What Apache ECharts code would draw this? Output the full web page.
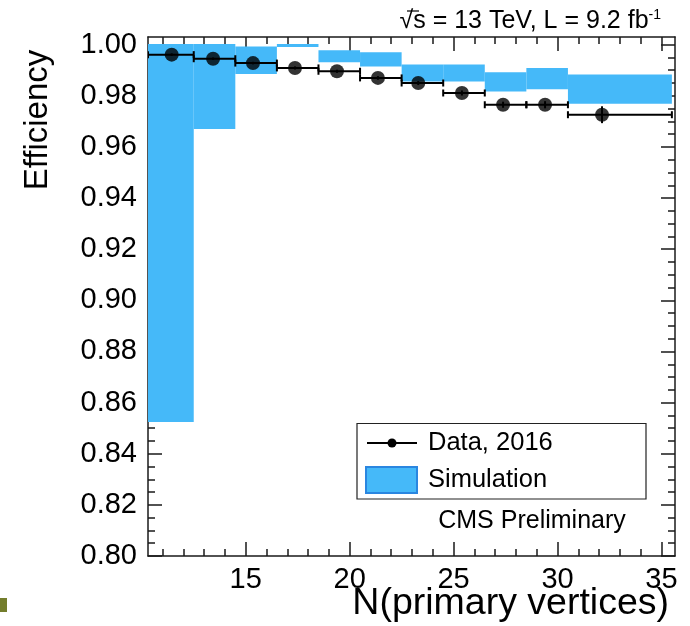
<!DOCTYPE html>
<html>
<head>
<meta charset="utf-8">
<script src="https://cdn.jsdelivr.net/npm/echarts@6/dist/echarts.min.js"></script>
<style>
  html, body { margin: 0; padding: 0; background: #fff; }
  #chart { width: 690px; height: 626px; }
</style>
</head>
<body>
<div id="chart"></div>
<script>
// Bin edges in N(primary vertices)
const binLow  = [10.3, 12.5, 14.5, 16.5, 18.5, 20.5, 22.5, 24.5, 26.5, 28.5, 30.5];
const binHigh = [12.5, 14.5, 16.5, 18.5, 20.5, 22.5, 24.5, 26.5, 28.5, 30.5, 35.5];

// Data, 2016: mean N(PV) per bin, efficiency and its uncertainty
const dataX   = [11.44, 13.43, 15.35, 17.37, 19.39, 21.36, 23.3, 25.4, 27.38, 29.4, 32.14];
const dataEff = [0.9961, 0.9945, 0.9928, 0.9909, 0.9896, 0.9870, 0.9850, 0.9811, 0.9765, 0.9765, 0.9726];
const dataErr = [0.0005, 0.0005, 0.0005, 0.0006, 0.0006, 0.0007, 0.0008, 0.0010, 0.0012, 0.0014, 0.0033];

// Simulation: uncertainty band per bin
const simLow  = [0.8524, 0.9670, 0.9885, 0.9991, 0.9931, 0.9915, 0.9856, 0.9856, 0.9817, 0.9826, 0.9769];
const simHigh = [1.0003, 1.0003, 0.9993, 1.0003, 0.9978, 0.9970, 0.9922, 0.9922, 0.9892, 0.9909, 0.9883];

// Axis ticks
const xMajor = [15, 20, 25, 30, 35];
const xMinor = [11, 12, 13, 14, 16, 17, 18, 19, 21, 22, 23, 24, 26, 27, 28, 29, 31, 32, 33, 34];
const yMajor = [0.80, 0.82, 0.84, 0.86, 0.88, 0.90, 0.92, 0.94, 0.96, 0.98, 1.00];
const yMinor = [];
for (let i = 0; i < yMajor.length - 1; i++) {
  for (let j = 1; j < 4; j++) yMinor.push(+(yMajor[i] + j * 0.005).toFixed(3));
}

const FONT = 'Liberation Sans';
const BLUE = '#45b9f9';
const FRAME = '#1a1a1a';
const X_MIN = 10.3, X_MAX = 35.65, Y_MIN = 0.80, Y_MAX = 1.003;

function xAxisDef(position, ticks, len, showLine, showLabel) {
  return {
    type: 'value', position: position, min: X_MIN, max: X_MAX,
    axisLine: { show: showLine, onZero: false, lineStyle: { color: FRAME, width: 1.5 } },
    axisTick: { show: true, inside: true, length: len, customValues: ticks,
                lineStyle: { color: FRAME, width: 1.5 } },
    axisLabel: { show: showLabel, customValues: ticks, margin: 9, fontSize: 29,
                 fontFamily: FONT, color: '#000' },
    splitLine: { show: false }
  };
}
function yAxisDef(position, ticks, len, showLine, showLabel) {
  return {
    type: 'value', position: position, min: Y_MIN, max: Y_MAX,
    axisLine: { show: showLine, onZero: false, lineStyle: { color: FRAME, width: 1.5 } },
    axisTick: { show: true, inside: true, length: len, customValues: ticks,
                lineStyle: { color: FRAME, width: 1.5 } },
    axisLabel: { show: showLabel, customValues: ticks, margin: 11, fontSize: 29,
                 fontFamily: FONT, color: '#000',
                 formatter: v => v.toFixed(2) },
    splitLine: { show: false }
  };
}

const chart = echarts.init(document.getElementById('chart'), null, { renderer: 'canvas' });

const option = {
  animation: false,
  backgroundColor: '#fff',
  grid: { left: 148, top: 37, width: 527, height: 519, containLabel: false },
  xAxis: [
    xAxisDef('bottom', xMajor, 14, true, true),
    xAxisDef('bottom', xMinor, 7, false, false),
    xAxisDef('top', xMajor, 14, true, false),
    xAxisDef('top', xMinor, 7, false, false)
  ],
  yAxis: [
    yAxisDef('left', yMajor, 14, true, true),
    yAxisDef('left', yMinor, 7, false, false),
    yAxisDef('right', yMajor, 14, true, false),
    yAxisDef('right', yMinor, 7, false, false)
  ],
  series: [
    {
      // simulation uncertainty band
      type: 'custom',
      name: 'Simulation',
      clip: true,
      data: binLow.map((lo, i) => [lo, binHigh[i], simLow[i], simHigh[i]]),
      encode: { x: [0, 1], y: [2, 3] },
      renderItem: function (params, api) {
        const a = api.coord([api.value(0), api.value(3)]);
        const b = api.coord([api.value(1), api.value(2)]);
        return {
          type: 'rect',
          shape: { x: a[0], y: a[1], width: b[0] - a[0], height: b[1] - a[1] },
          style: { fill: BLUE }
        };
      },
      z: 1
    },
    {
      // data error bars: bin width horizontally, uncertainty vertically
      type: 'custom',
      name: 'Data, 2016 errors',
      clip: true,
      data: binLow.map((lo, i) => [lo, binHigh[i], dataX[i], dataEff[i], dataErr[i]]),
      encode: { x: [0, 1], y: 3 },
      renderItem: function (params, api) {
        const lo = api.coord([api.value(0), api.value(3)]);
        const hi = api.coord([api.value(1), api.value(3)]);
        const c = api.coord([api.value(2), api.value(3)]);
        const up = api.coord([api.value(2), api.value(3) + api.value(4)]);
        const dn = api.coord([api.value(2), api.value(3) - api.value(4)]);
        const st = { stroke: '#000', lineWidth: 2 };
        const cap = 3.5;
        return {
          type: 'group',
          children: [
            { type: 'line', shape: { x1: lo[0], y1: lo[1], x2: hi[0], y2: hi[1] }, style: st },
            { type: 'line', shape: { x1: lo[0], y1: lo[1] - cap, x2: lo[0], y2: lo[1] + cap }, style: st },
            { type: 'line', shape: { x1: hi[0], y1: hi[1] - cap, x2: hi[0], y2: hi[1] + cap }, style: st },
            { type: 'line', shape: { x1: c[0], y1: up[1], x2: c[0], y2: dn[1] }, style: st }
          ]
        };
      },
      z: 3
    },
    {
      type: 'scatter',
      name: 'Data, 2016',
      data: dataX.map((x, i) => [x, dataEff[i]]),
      symbol: 'circle',
      symbolSize: 14,
      itemStyle: { color: '#000' },
      z: 4
    }
  ],
  graphic: [
    // energy and luminosity label
    {
      type: 'text',
      style: {
        x: 661, y: 21, align: 'right', verticalAlign: 'middle',
        text: '{m|√s = 13 TeV, L = 9.2 fb}{s|-1}',
        rich: {
          m: { fontSize: 25, fontFamily: FONT, fill: '#000', lineHeight: 26 },
          s: { fontSize: 14, fontFamily: FONT, fill: '#000', verticalAlign: 'top', lineHeight: 26 }
        }
      }
    },
    {
      type: 'line',
      shape: { x1: 407, y1: 11, x2: 419, y2: 11 },
      style: { stroke: '#000', lineWidth: 1.2 }
    },
    // axis titles
    {
      type: 'text',
      x: 38, y: 120, rotation: Math.PI / 2,
      style: { text: 'Efficiency', fontSize: 33, fontFamily: FONT, fill: '#000',
               align: 'center', verticalAlign: 'middle' }
    },
    {
      type: 'text',
      style: { x: 669, y: 604, text: 'N(primary vertices)', fontSize: 37.5, fontFamily: FONT,
               fill: '#000', align: 'right', verticalAlign: 'middle' }
    },
    // legend
    {
      type: 'rect',
      shape: { x: 357, y: 423.5, width: 289, height: 75.5 },
      style: { fill: '#fff', stroke: '#222', lineWidth: 1.2 },
      z: 10
    },
    {
      type: 'line',
      shape: { x1: 367, y1: 443, x2: 417, y2: 443 },
      style: { stroke: '#000', lineWidth: 2 },
      z: 11
    },
    {
      type: 'circle',
      shape: { cx: 392, cy: 443, r: 4.5 },
      style: { fill: '#000' },
      z: 11
    },
    {
      type: 'text',
      style: { x: 428, y: 443, text: 'Data, 2016', fontSize: 25.5, fontFamily: FONT,
               fill: '#000', align: 'left', verticalAlign: 'middle' },
      z: 11
    },
    {
      type: 'rect',
      shape: { x: 366, y: 467, width: 51, height: 26 },
      style: { fill: BLUE, stroke: '#2a86e0', lineWidth: 2 },
      z: 11
    },
    {
      type: 'text',
      style: { x: 428, y: 480, text: 'Simulation', fontSize: 25.5, fontFamily: FONT,
               fill: '#000', align: 'left', verticalAlign: 'middle' },
      z: 11
    },
    {
      type: 'text',
      style: { x: 532, y: 521, text: 'CMS Preliminary', fontSize: 25, fontFamily: FONT,
               fill: '#000', align: 'center', verticalAlign: 'middle' },
      z: 11
    },
    // small corner marker at the lower left edge
    {
      type: 'rect',
      shape: { x: 0, y: 598, width: 7, height: 14 },
      style: { fill: '#737d2c' }
    }
  ]
};

chart.setOption(option);
</script>
</body>
</html>
